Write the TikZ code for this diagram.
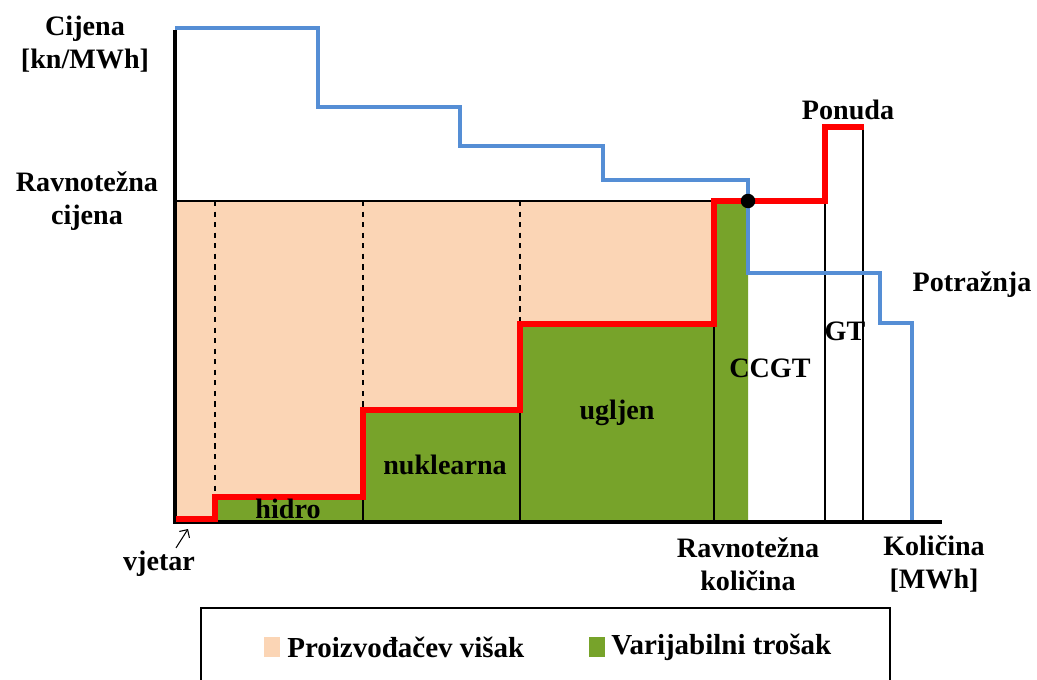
\documentclass[tikz,border=0pt]{standalone}
\usepackage{fontspec}
\setmainfont{Liberation Serif}
\usetikzlibrary{arrows.meta}

\definecolor{surplus}{RGB}{251,213,181}
\definecolor{varcost}{RGB}{119,163,42}
\definecolor{demandblue}{RGB}{85,142,213}
\definecolor{supplyred}{RGB}{255,0,0}

\begin{document}
\begin{tikzpicture}[x=0.02cm, y=-0.02cm,
every node/.style={align=center, font=\fontsize{16}{19}\selectfont\bfseries, inner sep=0pt},
axis/.style={line width=2.4pt, black},
thin/.style={line width=0.6pt, black},
supply/.style={line width=2.9pt, color=supplyred},
demand/.style={line width=2.6pt, color=demandblue},
legendbox/.style={fill=#1, minimum width=0.32cm, minimum height=0.4cm},
legendtext/.style={anchor=west, font=\fontsize{16.5}{18}\selectfont\bfseries}]
\useasboundingbox (0,0) rectangle (1037,679);
%================================================================
% Areas
% --------------------------------
% Producer surplus
\fill[surplus] (175,201) rectangle (748,520);
% Variable cost
\fill[varcost] (215,520) -- (215,497) -- (363,497) -- (363,410) -- (520,410)
  -- (520,324) -- (714,324) -- (714,201) -- (748,201) -- (748,520) -- cycle;

%================================================================
% Helper lines
\draw[thin] (175,201) -- (714,201);
\draw[thin, dashed] (215,201) -- (215,497);
\draw[thin, dashed] (363,201) -- (363,410);
\draw[thin, dashed] (520,201) -- (520,324);
\draw[thin] (363,497) -- (363,520);
\draw[thin] (520,410) -- (520,520);
\draw[thin] (714,324) -- (714,520);
\draw[thin] (825,201) -- (825,520);
\draw[thin] (863,127) -- (863,520);

%================================================================
% Axis
\draw[axis] (175,30) -- (175,522) -- (942,522);

%================================================================
% Demand
\draw[demand] (175,28) -- (318,28) -- (318,107) -- (460,107) -- (460,146) -- (603,146)
  -- (603,180) -- (748,180) -- (748,273) -- (880,273) -- (880,323) -- (912,323) -- (912,520);

%================================================================
% Supply
\draw[supply] (176,519) -- (215,519) -- (215,497) -- (363,497) -- (363,410) -- (520,410)
  -- (520,324) -- (714,324) -- (714,201) -- (825,201) -- (825,127) -- (864,127);

% Equilibrium
\node[fill=black, circle, minimum size=0.29cm] (eq) at (748,201) {};

%================================================================
% Labels
\node (cijena) at (85,44) {Cijena\\{[}kn/MWh{]}};
\node (rcijena) at (87,201) {Ravnotežna\\cijena};
\node (ponuda) at (848,110) {Ponuda};
\node (potraznja) at (972,285) {Potražnja};
\node (gt) at (845,331) {GT};
\node (ccgt) at (770,368) {CCGT};
\node (ugljen) at (617,413) {ugljen};
\node (nuklearna) at (445,465) {nuklearna};
\node (hidro) at (288,509) {hidro};
\node (vjetar) at (159,564) {vjetar};
\coordinate (vjetarend) at (188,529);
\draw[thin, -{Straight Barb[length=1.2mm]}] (vjetar.north) ++(17,-3) -- (vjetarend);
\node (rkolicina) at (748,564) {Ravnotežna\\količina};
\node (kolicina) at (934,564) {Količina\\{[}MWh{]}};

%================================================================
% Legend
\draw[line width=0.8pt] (201,608) rectangle (890,700);
\node[legendbox=surplus] (lsurplus) at (272,647) {};
\node[legendtext] (lsurplustext) at (287,647) {Proizvođačev višak};
\node[legendbox=varcost] (lcost) at (597,647) {};
\node[legendtext] (lcosttext) at (611,647) {Varijabilni trošak};

%================================================================
\end{tikzpicture}
\end{document}
